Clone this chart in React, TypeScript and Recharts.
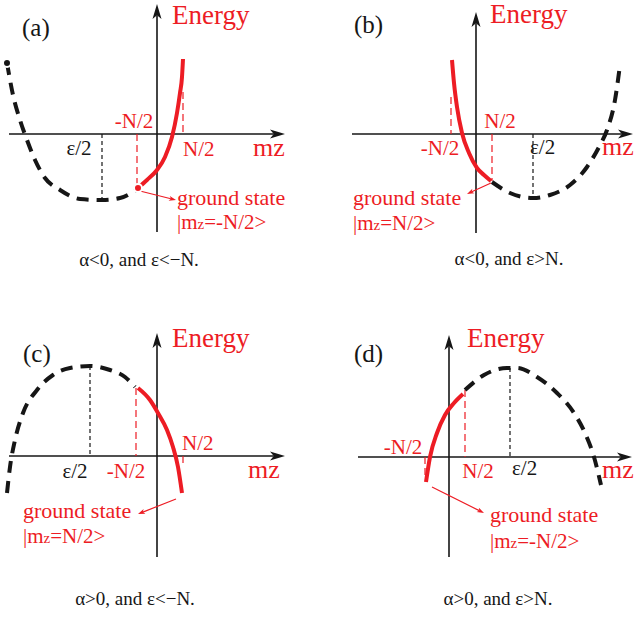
import { LineChart, Line, XAxis, YAxis, ReferenceLine, ReferenceDot } from "recharts";

const RED = "#ed1c24";
const INK = "#161616";
const FONT = "'Liberation Serif', 'Times New Roman', serif";

// energy branches, mz on x (grid units), energy on y
const aGround = [
  { x: -1.9, y: -5.4 }, { x: -1.0, y: -4.6 }, { x: 0, y: -3.6 }, { x: 0.8, y: -2.3 },
  { x: 1.5, y: -0.3 }, { x: 2.0, y: 2.1 }, { x: 2.3, y: 4.1 }, { x: 2.5, y: 5.7 }, { x: 2.6, y: 7.5 },
];
const aRest = [
  { x: -15.0, y: 7.1 }, { x: -14.4, y: 3.9 }, { x: -13.7, y: 1.4 }, { x: -13.0, y: -0.6 },
  { x: -12.2, y: -2.6 }, { x: -11.2, y: -4.4 }, { x: -9.7, y: -5.6 }, { x: -7.7, y: -6.5 },
  { x: -5.5, y: -6.6 }, { x: -3.7, y: -6.4 }, { x: -2.1, y: -5.6 },
];
const bGround = [
  { x: -2.4, y: 7.4 }, { x: -2.2, y: 5.1 }, { x: -1.9, y: 2.7 }, { x: -1.4, y: 0.1 },
  { x: -0.7, y: -1.9 }, { x: 0.1, y: -3.4 }, { x: 0.8, y: -4.1 }, { x: 1.5, y: -4.7 },
];
const bRest = [
  { x: 1.6, y: -4.8 }, { x: 3.4, y: -5.9 }, { x: 5.7, y: -6.4 }, { x: 7.4, y: -6.1 },
  { x: 9.4, y: -5.1 }, { x: 11.1, y: -3.3 }, { x: 12.3, y: -1.3 }, { x: 13.1, y: 0.4 },
  { x: 13.9, y: 3.4 }, { x: 14.4, y: 6.9 },
];
const cGround = [
  { x: -1.9, y: 6.8 }, { x: -0.7, y: 5.6 }, { x: 0.1, y: 4.3 }, { x: 1.0, y: 2.6 },
  { x: 1.6, y: 0.9 }, { x: 2.1, y: -1.1 }, { x: 2.5, y: -3.7 },
];
const cRest = [
  { x: -15.0, y: -3.7 }, { x: -14.7, y: -1.1 }, { x: -14.2, y: 1.6 }, { x: -13.4, y: 4.3 },
  { x: -12.0, y: 6.6 }, { x: -10.4, y: 8.1 }, { x: -8.7, y: 8.8 }, { x: -6.7, y: 9.0 },
  { x: -4.7, y: 8.6 }, { x: -3.2, y: 7.9 }, { x: -2.2, y: 6.9 },
];
const dGround = [
  { x: -2.3, y: -2.5 }, { x: -1.9, y: 0 }, { x: -1.2, y: 2.4 }, { x: -0.4, y: 4.2 },
  { x: 0.5, y: 5.4 }, { x: 1.4, y: 6.3 },
];
const dRest = [
  { x: 1.6, y: 6.7 }, { x: 3.5, y: 8.2 }, { x: 5.8, y: 8.9 }, { x: 6.8, y: 8.9 },
  { x: 8.8, y: 8.0 }, { x: 10.8, y: 6.4 }, { x: 12.5, y: 4.4 }, { x: 13.6, y: 2.4 },
  { x: 14.5, y: 0 }, { x: 15.2, y: -2.8 },
];

const tags = ["(a)", "(b)", "(c)", "(d)"];
const kets = ["-N/2", "N/2", "N/2", "-N/2"];
const captions = ["α<0, and ε<−N.", "α<0, and ε>N.", "α>0, and ε<−N.", "α>0, and ε>N."];

type Lbl = { x: number; y: number; anchor?: string };

const panels = [
  {
    left: 0, top: 0, h: 300, xd: [-15.7, 16.0], yd: [-16.6, 13.4],
    xAxis: [-14.8, 12.8], yAxis: [-9.8, 13.0],
    ground: aGround, rest: aRest,
    eps: [-5.5, 0, -6.6], lo: [-2.0, 0, -5.4], hi: [2.6, 4.2, 0],
    pointer: [[-1.7, -5.7], [1.9, -6.6]],
    tag: { x: -13.5, y: 9.8 }, energy: { x: 1.5, y: 11.0 }, mz: { x: 9.6, y: -2.2 },
    loLbl: { x: -2.3, y: 0.6, anchor: "middle" }, hiLbl: { x: 2.6, y: -2.2, anchor: "start" },
    epsLbl: { x: -7.8, y: -2.1, anchor: "middle" },
    gs: { x: 2.0, y: -7.1 }, ket: { x: 2.0, y: -9.5 }, cap: { x: -1.8, y: -13.2 },
  },
  {
    left: 317, top: 0, h: 300, xd: [-15.9, 15.8], yd: [-16.6, 13.4],
    xAxis: [-12.4, 15.7], yAxis: [-9.9, 12.2],
    ground: bGround, rest: bRest,
    eps: [5.7, 0, -6.4], lo: [-2.5, 3.7, 0], hi: [1.6, 0, -4.7],
    pointer: [[1.5, -4.9], [-0.9, -6.0]],
    tag: { x: -12.2, y: 10.1 }, energy: { x: 1.4, y: 11.1 }, mz: { x: 12.6, y: -2.1 },
    loLbl: { x: -3.6, y: -2.1, anchor: "middle" }, hiLbl: { x: 2.4, y: 0.6, anchor: "middle" },
    epsLbl: { x: 5.4, y: -2.0, anchor: "start" },
    gs: { x: -12.3, y: -7.1 }, ket: { x: -12.3, y: -9.6 }, cap: { x: 3.3, y: -13.1 },
  },
  {
    left: 0, top: 300, h: 321, xd: [-15.7, 16.0], yd: [-16.5, 15.6],
    xAxis: [-14.8, 12.8], yAxis: [-10.1, 12.3],
    ground: cGround, rest: cRest,
    eps: [-6.7, 9.0, 0], lo: [-2.1, 6.8, 0], hi: [2.6, 0, -0.9],
    pointer: [[1.9, -4.3], [-1.9, -5.8]],
    tag: { x: -13.4, y: 9.4 }, energy: { x: 1.5, y: 10.9 }, mz: { x: 9.1, y: -2.2 },
    loLbl: { x: -3.1, y: -2.2, anchor: "middle" }, hiLbl: { x: 2.5, y: 0.6, anchor: "start" },
    epsLbl: { x: -8.2, y: -2.2, anchor: "middle" },
    gs: { x: -13.4, y: -6.2 }, ket: { x: -13.4, y: -8.7 }, cap: { x: -2.2, y: -14.9 },
  },
  {
    left: 317, top: 300, h: 321, xd: [-13.2, 18.5], yd: [-16.4, 15.7],
    xAxis: [-9.1, 18.3], yAxis: [-10.0, 12.2],
    ground: dGround, rest: dRest,
    eps: [6.1, 8.9, 0], lo: [-2.4, 0, -2.0], hi: [1.6, 6.7, 0],
    pointer: [[-1.7, -3.0], [3.5, -5.6]],
    tag: { x: -9.5, y: 9.5 }, energy: { x: 1.8, y: 11.0 }, mz: { x: 15.3, y: -2.1 },
    loLbl: { x: -4.6, y: 0.3, anchor: "middle" }, hiLbl: { x: 2.9, y: -2.1, anchor: "middle" },
    epsLbl: { x: 6.3, y: -1.8, anchor: "start" },
    gs: { x: 4.1, y: -6.5 }, ket: { x: 4.1, y: -9.1 }, cap: { x: 4.9, y: -14.8 },
  },
];

const arrowShape = (len: number, half: number) => (p: any) => {
  const { x1, y1, x2, y2, stroke, strokeWidth } = p;
  const a = Math.atan2(y2 - y1, x2 - x1);
  const c = Math.cos(a), s = Math.sin(a);
  const bx = x2 - len * c, by = y2 - len * s;
  const nx = x2 - len * 0.75 * c, ny = y2 - len * 0.75 * s;
  return (
    <g>
      <line x1={x1} y1={y1} x2={nx} y2={ny} stroke={stroke} strokeWidth={strokeWidth} />
      <polygon
        points={`${x2},${y2} ${bx - half * s},${by + half * c} ${nx},${ny} ${bx + half * s},${by - half * c}`}
        fill={stroke}
      />
    </g>
  );
};

const textShape = (content: any, color: string, size: number, anchor = "start") => (p: any) => (
  <text x={p.cx} y={p.cy} fill={color} fontSize={size} fontFamily={FONT} textAnchor={anchor}>
    {content}
  </text>
);

const note = (key: string, at: Lbl, content: any, color: string, size: number, anchor?: string) => (
  <ReferenceDot key={key} x={at.x} y={at.y} r={0} shape={textShape(content, color, size, anchor ?? at.anchor)} />
);

const guide = (key: string, g: number[], color: string, dash: string) => (
  <ReferenceLine
    key={key}
    segment={[{ x: g[0], y: g[1] }, { x: g[0], y: g[2] }]}
    stroke={color}
    strokeWidth={1.2}
    strokeDasharray={dash}
  />
);

const Panel = ({ i }: { i: number }) => {
  const p = panels[i];
  const ket = (
    <>
      <tspan>|m</tspan>
      <tspan fontSize={15}>z</tspan>
      <tspan>={kets[i]}&gt;</tspan>
    </>
  );
  return (
    <div style={{ position: "absolute", left: p.left, top: p.top }}>
      <LineChart width={317} height={p.h} margin={{ top: 0, right: 0, bottom: 0, left: 0 }}>
        <XAxis type="number" dataKey="x" domain={p.xd} hide allowDataOverflow />
        <YAxis type="number" dataKey="y" domain={p.yd} hide allowDataOverflow />
        <ReferenceLine
          segment={[{ x: p.xAxis[0], y: 0 }, { x: p.xAxis[1], y: 0 }]}
          stroke={INK} strokeWidth={1.6} shape={arrowShape(15, 4.5)}
        />
        <ReferenceLine
          segment={[{ x: 0, y: p.yAxis[0] }, { x: 0, y: p.yAxis[1] }]}
          stroke={INK} strokeWidth={1.6} shape={arrowShape(15, 4.5)}
        />
        {guide("eps", p.eps, INK, "4 3")}
        {guide("lo", p.lo, RED, "7 4")}
        {guide("hi", p.hi, RED, "7 4")}
        <Line data={p.rest} dataKey="y" type="monotone" stroke={INK} strokeWidth={4}
          strokeDasharray="12 8" dot={false} isAnimationActive={false} />
        <Line data={p.ground} dataKey="y" type="monotone" stroke={RED} strokeWidth={4}
          dot={false} isAnimationActive={false} />
        <ReferenceLine
          segment={[{ x: p.pointer[0][0], y: p.pointer[0][1] }, { x: p.pointer[1][0], y: p.pointer[1][1] }]}
          stroke={RED} strokeWidth={1.2} shape={arrowShape(7, 2.5)}
        />
        {note("tag", p.tag, tags[i], INK, 25)}
        {note("energy", p.energy, "Energy", RED, 27)}
        {note("mz", p.mz, "mz", RED, 26)}
        {note("lo", p.loLbl, "-N/2", RED, 21)}
        {note("hi", p.hiLbl, "N/2", RED, 21)}
        {note("eps", p.epsLbl, "ε/2", INK, 21)}
        {note("gs", p.gs, "ground state", RED, 22)}
        {note("ket", p.ket, ket, RED, 21)}
        {note("cap", p.cap, captions[i], INK, 19, "middle")}
      </LineChart>
    </div>
  );
};

export default function App() {
  return (
    <div style={{ position: "absolute", left: 0, top: 0, width: 634, height: 621, background: "#fff" }}>
      {panels.map((_, i) => (
        <Panel key={i} i={i} />
      ))}
    </div>
  );
}
